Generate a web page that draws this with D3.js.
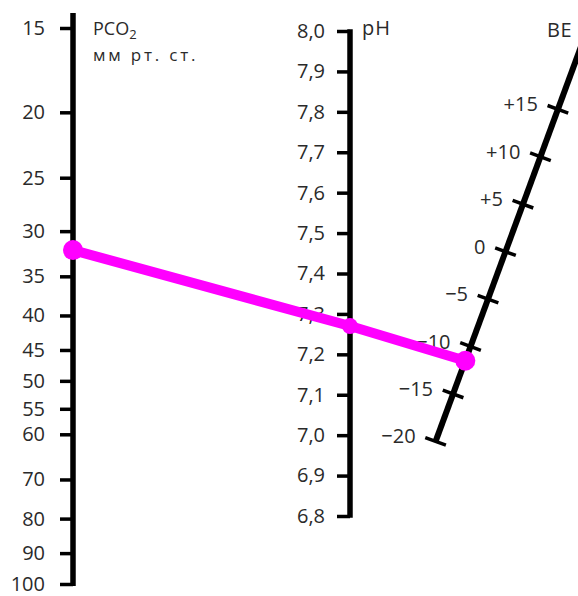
<!DOCTYPE html>
<html lang="ru">
<head>
  <meta charset="UTF-8">
  <title>Номограмма PCO2 - pH - BE</title>
  <script src="https://d3js.org/d3.v7.min.js"></script>
  <style>
    body { margin: 0; background: #fff; }
    text { font-family: "Open Sans", sans-serif; fill: #2a2a2a; }
  </style>
</head>
<body>
<div id="chart"></div>
<script>
// tick values of the three scales
var pco2Ticks = [15, 20, 25, 30, 35, 40, 45, 50, 55, 60, 70, 80, 90, 100];
var phTicks = [8.0, 7.9, 7.8, 7.7, 7.6, 7.5, 7.4, 7.3, 7.2, 7.1, 7.0, 6.9, 6.8];
var beTicks = [-20, -15, -10, -5, 0, 5, 10, 15];

// the reading marked in pink: PCO2, pH, BE
var reading = [32, 7.27, -11.5];

var width = 578, height = 596;
var fs = 20;

var svg = d3.select("#chart").append("svg")
  .attr("width", width)
  .attr("height", height);

// PCO2 is a log scale, pH linear
var yPco2 = d3.scaleLog().domain([15, 100]).range([28, 584]);
var yPh = d3.scaleLinear().domain([6.8, 8.0]).range([516, 31]);

// BE axis is slanted, so one scale for x and one for y
var beX = d3.scaleLinear().domain([-20, 15]).range([435.6, 557.9]);
var beY = d3.scaleLinear().domain([-20, 15]).range([441.4, 109.3]);

var xPco2 = 73, xPh = 350;

function styleTicks(g) {
  g.select(".domain").remove();
  g.selectAll(".tick line").attr("stroke", "#000").attr("stroke-width", 3.5);
  g.selectAll(".tick text")
    .attr("font-size", fs)
    .attr("font-family", null)
    .attr("fill", "#2a2a2a");
}

// ---- PCO2 axis ----
svg.append("line")
  .attr("x1", xPco2).attr("x2", xPco2)
  .attr("y1", yPco2(15) - 15).attr("y2", yPco2(100) + 2)
  .attr("stroke", "#000").attr("stroke-width", 5.5);

svg.append("g")
  .attr("transform", "translate(" + xPco2 + ",0)")
  .call(d3.axisLeft(yPco2).tickValues(pco2Ticks).tickFormat(d3.format("d"))
    .tickSize(13).tickPadding(15))
  .call(styleTicks);

var pco2Title = svg.append("text").attr("x", 93).attr("y", 35).attr("font-size", 18);
pco2Title.append("tspan").text("PCO");
pco2Title.append("tspan").attr("dy", 4).attr("font-size", 13).text("2");
svg.append("text").attr("x", 93).attr("y", 61)
  .attr("font-size", 17).attr("letter-spacing", 2.8).text("мм рт. ст.");

// ---- pH axis ----
svg.append("line")
  .attr("x1", xPh).attr("x2", xPh)
  .attr("y1", yPh(8.0) - 1.7).attr("y2", yPh(6.8) + 1.7)
  .attr("stroke", "#000").attr("stroke-width", 5.5);

svg.append("g")
  .attr("transform", "translate(" + xPh + ",0)")
  .call(d3.axisLeft(yPh).tickValues(phTicks)
    .tickFormat(function(d){ return d3.format(".1f")(d).replace(".", ","); })
    .tickSize(13).tickPadding(12))
  .call(styleTicks);

svg.append("text").attr("x", 362).attr("y", 35).attr("font-size", fs)
  .attr("letter-spacing", 1).text("pH");

// ---- BE axis (slanted) ----
svg.append("line")
  .attr("x1", beX(-20)).attr("y1", beY(-20))
  .attr("x2", beX(25)).attr("y2", beY(25))
  .attr("stroke", "#000").attr("stroke-width", 6);

// tick direction perpendicular to the axis
var dx = beX(15) - beX(-20), dy = beY(15) - beY(-20);
var len = Math.sqrt(dx * dx + dy * dy);
var px = -dy / len, py = dx / len;
var half = 11;

var beTick = svg.append("g").selectAll("g")
  .data(beTicks)
  .enter().append("g");

beTick.append("line")
  .attr("x1", function(d){ return beX(d) - px * half; })
  .attr("y1", function(d){ return beY(d) - py * half; })
  .attr("x2", function(d){ return beX(d) + px * half; })
  .attr("y2", function(d){ return beY(d) + py * half; })
  .attr("stroke", "#000").attr("stroke-width", 3.5);

beTick.append("text")
  .attr("x", function(d){ return beX(d) - 20; })
  .attr("y", function(d){ return beY(d) - 5; })
  .attr("dy", "0.35em")
  .attr("text-anchor", "end")
  .attr("font-size", fs)
  .text(function(d){ return d > 0 ? "+" + d : d < 0 ? "\u2212" + Math.abs(d) : "0"; });

svg.append("text").attr("x", 547).attr("y", 37).attr("font-size", fs)
  .attr("letter-spacing", 0.5).text("BE");

// ---- reading line + dots ----
var pts = [
  [xPco2, yPco2(reading[0])],
  [xPh, yPh(reading[1])],
  [beX(reading[2]), beY(reading[2])]
];

svg.append("path")
  .attr("d", d3.line()(pts))
  .attr("fill", "none")
  .attr("stroke", "#ff00ff")
  .attr("stroke-width", 10)
  .attr("stroke-linejoin", "round");

svg.selectAll("circle.pt")
  .data(pts)
  .enter().append("circle")
  .attr("class", "pt")
  .attr("cx", function(d){ return d[0]; })
  .attr("cy", function(d){ return d[1]; })
  .attr("r", function(d, i){ return i == 1 ? 8 : 10; })
  .attr("fill", "#ff00ff");
</script>
</body>
</html>
